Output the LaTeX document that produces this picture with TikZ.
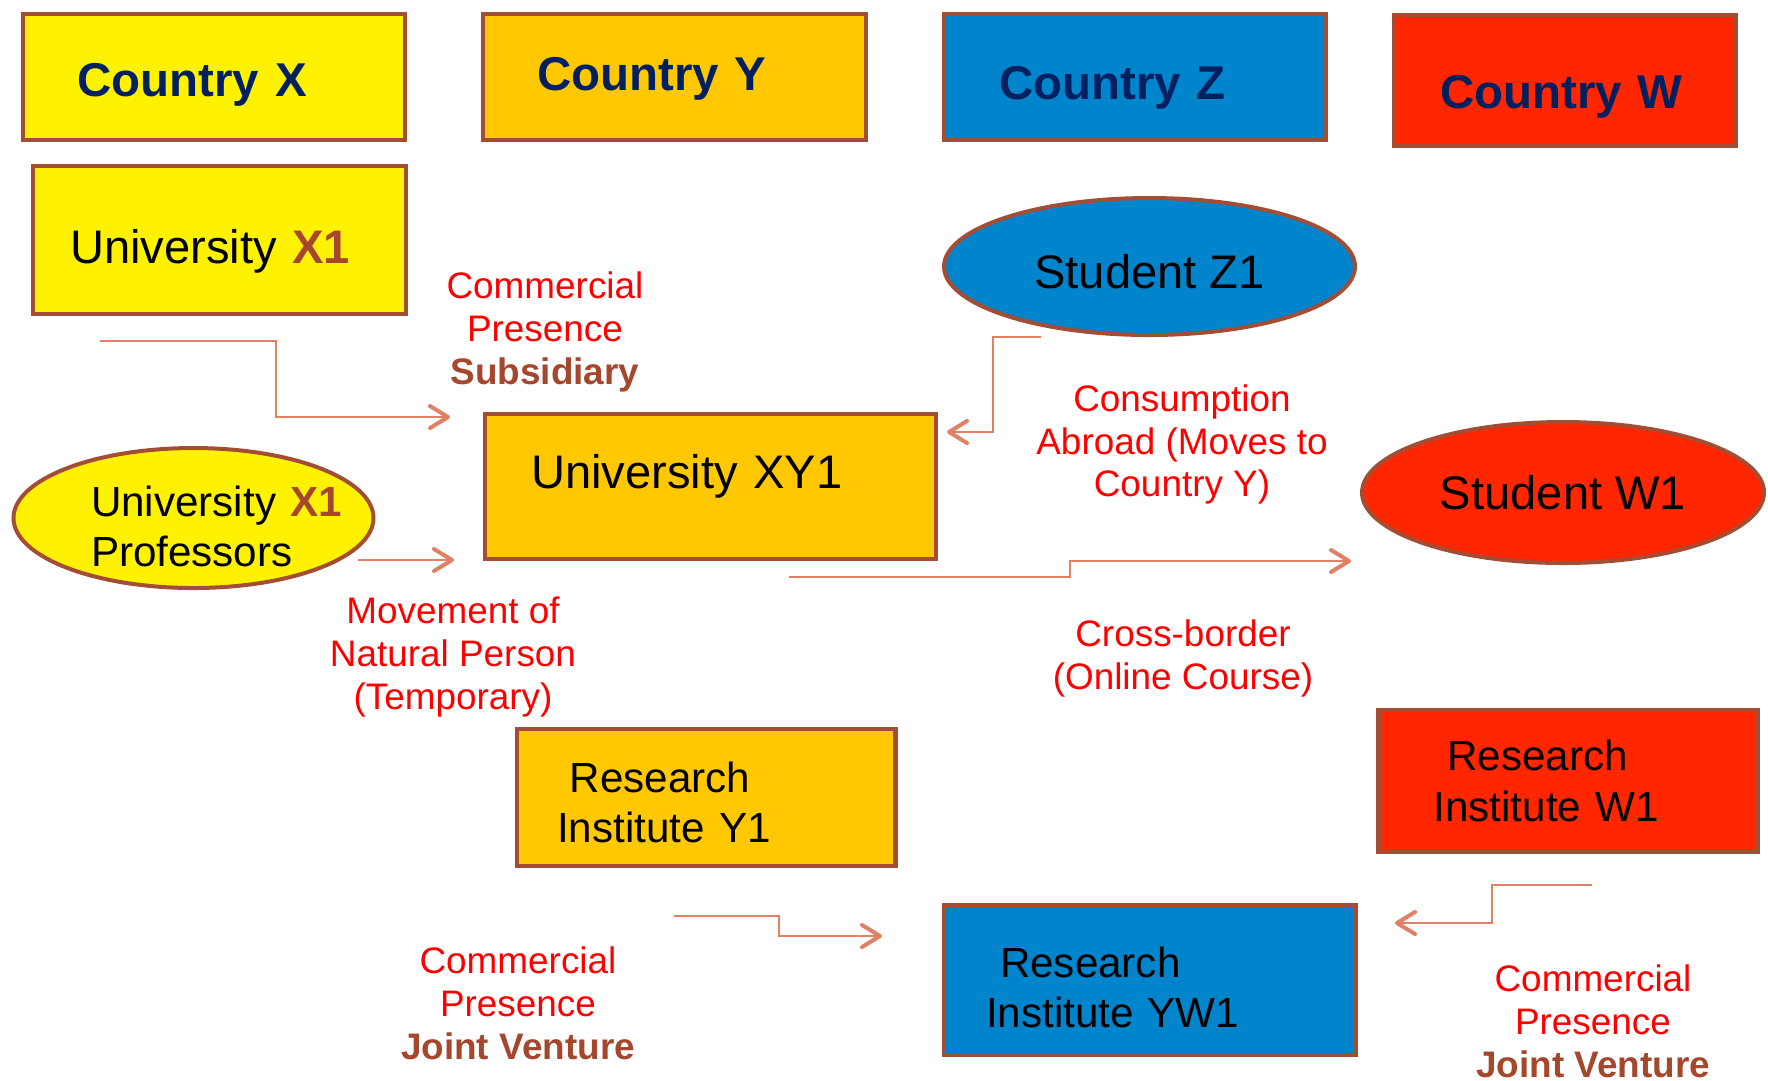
\documentclass[tikz,border=0pt]{standalone}
\usepackage{fontspec}
\setmainfont{Liberation Sans}
\usetikzlibrary{shapes.geometric,arrows.meta}
\definecolor{navy}{HTML}{002060}
\definecolor{frame}{HTML}{A34E34}
\definecolor{gold}{HTML}{FFC800}
\definecolor{sea}{HTML}{0084CB}
\definecolor{scarlet}{HTML}{FF2600}
\definecolor{salmon}{HTML}{E08064}
\definecolor{rust}{HTML}{A5472D}
\begin{document}
\begin{tikzpicture}[x=0.1mm,y=-0.1mm]
\tikzstyle{country} = [rectangle, draw=frame, line width=0.4mm, text=navy, font=\fontsize{13.5}{16}\selectfont\bfseries, align=left, inner sep=0pt, text depth=1mm]
\tikzstyle{unibox} = [rectangle, draw=frame, line width=0.45mm, align=left, inner sep=0pt]
\tikzstyle{person} = [ellipse, draw=frame, line width=0.4mm, inner sep=0pt]
\tikzstyle{big} = [font=\fontsize{13.4}{16}\selectfont]
\tikzstyle{small} = [font=\fontsize{12}{14.3}\selectfont]
\tikzstyle{mode} = [text=red, align=center, font=\fontsize{10.5}{12.2}\selectfont]
\tikzstyle{flow} = [salmon, line width=0.25mm, -{Straight Barb[length=1.8mm,width=2.2mm,line width=0.4mm,round]}]
\useasboundingbox (0,0) rectangle (1768,1080);
% countries
\node (cx)[country, fill=yellow, minimum width=38.2mm, minimum height=12.6mm, text width=27.3mm, text height=4.8mm] at (214,77) {Country~X};
\node (cy)[country, fill=gold, minimum width=38.3mm, minimum height=12.6mm, text width=27.5mm, text height=3.6mm] at (674.5,77) {Country~Y};
\node (cz)[country, fill=sea, minimum width=38.2mm, minimum height=12.6mm, text width=27.2mm, text height=5.4mm] at (1135,77) {Country~Z};
\node (cw)[country, fill=scarlet, minimum width=34.2mm, minimum height=13.1mm, text width=25mm, text height=6.5mm] at (1565,80.5) {Country~W};
% providers and consumers
\node (ux1)[unibox, big, fill=yellow, minimum width=37.3mm, minimum height=14.8mm, text width=29.9mm, text height=5.6mm, text depth=1mm] at (219.5,240) {University~\textbf{\color{rust}X1}};
\node (xy1)[unibox, big, fill=gold, minimum width=45.1mm, minimum height=14.5mm, text width=35.9mm, text height=3.5mm, text depth=3.2mm] at (710.5,486.5) {University~XY1};
\node (prof)[person, small, fill=yellow, minimum width=36mm, minimum height=14mm, text width=20.5mm, text height=4.7mm, align=left] at (193.5,518) {\makebox[0pt][l]{University \textbf{\color{rust}X1}}\\\makebox[0pt][l]{Professors}};
\node (sz1)[person, big, fill=sea, minimum width=41.1mm, minimum height=13.7mm, text height=4.4mm] at (1149.5,266.5) {Student Z1};
\node (sw1)[person, big, fill=scarlet, minimum width=40.2mm, minimum height=14.1mm] at (1563,492.5) {Student W1};
\node (ry1)[unibox, small, fill=gold, minimum width=37.85mm, minimum height=13.7mm, text width=29.75mm, text height=4mm] at (706,797.5) {\hspace*{1.25mm}Research\\Institute~Y1};
\node (rw1)[unibox, small, fill=scarlet, minimum width=37.9mm, minimum height=14.2mm, text width=26.9mm] at (1568,781) {\hspace*{1.4mm}Research\\Institute~W1};
\node (ryw1)[unibox, small, fill=sea, minimum width=41.2mm, minimum height=15mm, text width=32.8mm, text height=4.5mm] at (1150,980) {\hspace*{1.4mm}Research\\Institute~YW1};
% modes of supply
\node (sub)[mode] at (545,332) {Commercial\\Presence\\\textbf{\color{rust}Subsidiary}};
\node (cons)[mode] at (1182,444.5) {Consumption\\Abroad (Moves to\\Country Y)};
\node (mnp)[mode] at (453,657) {Movement of\\Natural Person\\(Temporary)};
\node (cb)[mode] at (1183,658) {Cross-border\\(Online Course)};
\node (jv1)[mode] at (518,1003) {Commercial\\Presence\\\textbf{\color{rust}Joint Venture}};
\node (jv2)[mode] at (1593,1021) {Commercial\\Presence\\\textbf{\color{rust}Joint Venture}};
% arrow ends
\coordinate (ux1-out) at (100,341);
\coordinate (xy1-in1) at (450,417);
\coordinate (prof-out) at (358,560);
\coordinate (xy1-in2) at (454,560);
\coordinate (sz1-out) at (1041,337);
\coordinate (xy1-in3) at (947,432);
\coordinate (xy1-out) at (789,577);
\coordinate (sw1-in) at (1351,561);
\coordinate (ry1-out) at (674,916);
\coordinate (ryw1-in1) at (882,936);
\coordinate (rw1-out) at (1592,885);
\coordinate (ryw1-in2) at (1395,923);
\draw [flow] (ux1-out) -- ++(176,0) |- (xy1-in1);
\draw [flow] (prof-out) -- (xy1-in2);
\draw [flow] (sz1-out) -- ++(-48,0) |- (xy1-in3);
\draw [flow] (xy1-out) -- ++(281,0) |- (sw1-in);
\draw [flow] (ry1-out) -- ++(105,0) |- (ryw1-in1);
\draw [flow] (rw1-out) -- ++(-100,0) |- (ryw1-in2);
\end{tikzpicture}
\end{document}
